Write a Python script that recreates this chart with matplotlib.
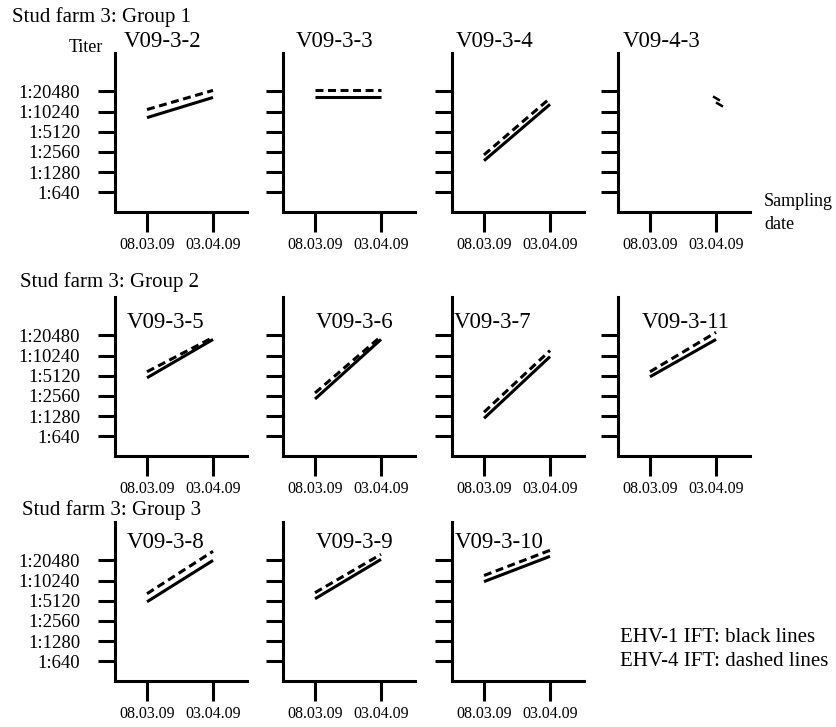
import numpy as np
import matplotlib
matplotlib.use("Agg")
import matplotlib.pyplot as plt
from matplotlib.path import Path

plt.rcParams['font.family'] = ['Liberation Serif', 'DejaVu Serif']

# data: titers (reciprocal) at the two sampling dates
dates = ["08.03.09", "03.04.09"]
titer_ticks = [640, 1280, 2560, 5120, 10240, 20480]
groups = ["Stud farm 3: Group 1", "Stud farm 3: Group 2", "Stud farm 3: Group 3"]
horses = [["V09-3-2", "V09-3-3", "V09-3-4", "V09-4-3"],
          ["V09-3-5", "V09-3-6", "V09-3-7", "V09-3-11"],
          ["V09-3-8", "V09-3-9", "V09-3-10"]]
# EHV-1 IFT (black lines)
ehv1 = [[[8320, 16640], [16640, 16640], [1900, 13140], [None, 13140]],
        [[4780, 17830], [2310, 17830], [1190, 9890], [4950, 17830]],
        [[4950, 20480], [5490, 21200], [9890, 23530]]]
# EHV-4 IFT (dashed lines)
ehv4 = [[[10980, 21200], [21200, 21200], [2320, 16180], [None, 16180]],
        [[5880, 19110], [2840, 19780], [1470, 12180], [5880, 22720]],
        [[6530, 27970], [6760, 25220], [12180, 28960]]]

# layout (pixels of the 837x727 picture)
W, H = 837, 727
col_left = [115, 283, 452, 618]
ax_w, ax_h = 132, 159
row_bottom = [212, 456, 681]
title_y = [1.07, 0.84, 0.87]
title_x = [[0.36, 0.39, 0.32, 0.33],
           [0.38, 0.54, 0.31, 0.51],
           [0.38, 0.54, 0.36]]
group_xy = [(12, 17), (20, 282), (22, 510)]

fig = plt.figure(figsize=(W / 100, H / 100), dpi=100)

lw = 2.2
tiny = Path([(-1, 0.6), (1, -0.6)], [Path.MOVETO, Path.LINETO])

for r, row in enumerate(horses):
    fig.text(group_xy[r][0] / W, 1 - group_xy[r][1] / H, groups[r],
             fontsize=15, ha='left', va='center')
    for c, name in enumerate(row):
        left = col_left[c] / W
        bottom = 1 - row_bottom[r] / H
        ax = fig.add_axes([left, bottom, ax_w / W, ax_h / H])
        ax.set_yscale('log', base=2)
        ax.set_ylim(640 * 2 ** -0.97, 640 * 2 ** 6.9)
        ax.set_xlim(-0.485, 1.515)

        s = ehv1[r][c]
        d = ehv4[r][c]
        if None in s:
            # only one sampling: draw short marks
            ax.plot([1], [d[1]], ls='none', marker=tiny, ms=5, mew=1.8, color='black')
            ax.plot([1.05], [s[1]], ls='none', marker=tiny, ms=5, mew=1.8, color='black')
        else:
            ax.plot([0, 1], s, color='black', lw=lw, solid_capstyle='butt')
            ax.plot([0, 1], d, color='black', lw=lw, dashes=(2.6, 1.5))

        for side in ['top', 'right']:
            ax.spines[side].set_visible(False)
        for side in ['left', 'bottom']:
            ax.spines[side].set_linewidth(lw)

        ax.set_yticks(titer_ticks)
        ax.yaxis.set_minor_locator(matplotlib.ticker.NullLocator())
        ax.set_xticks([0, 1])
        ax.set_xticklabels(dates)
        ax.tick_params(axis='y', length=12, width=lw, direction='out', pad=13,
                       labelsize=13.5)
        ax.tick_params(axis='x', length=14.5, width=lw, direction='out', pad=3.5,
                       labelsize=11.5)
        if c == 0:
            ax.set_yticklabels(["1:%d" % t for t in titer_ticks])
        else:
            ax.set_yticklabels([])

        ax.text(title_x[r][c], title_y[r], name, transform=ax.transAxes,
                fontsize=16.5, ha='center', va='center')

fig.text(103 / W, 1 - 47 / H, "Titer", fontsize=13, ha='right', va='center')
fig.text(764 / W, 1 - 213 / H, "Sampling\ndate", fontsize=13, ha='left',
         va='center', linespacing=1.45)
fig.text(620 / W, 1 - 637 / H, "EHV-1 IFT: black lines", fontsize=15,
         ha='left', va='center')
fig.text(620 / W, 1 - 662 / H, "EHV-4 IFT: dashed lines", fontsize=15,
         ha='left', va='center')

fig.savefig("out.png", dpi=100)
